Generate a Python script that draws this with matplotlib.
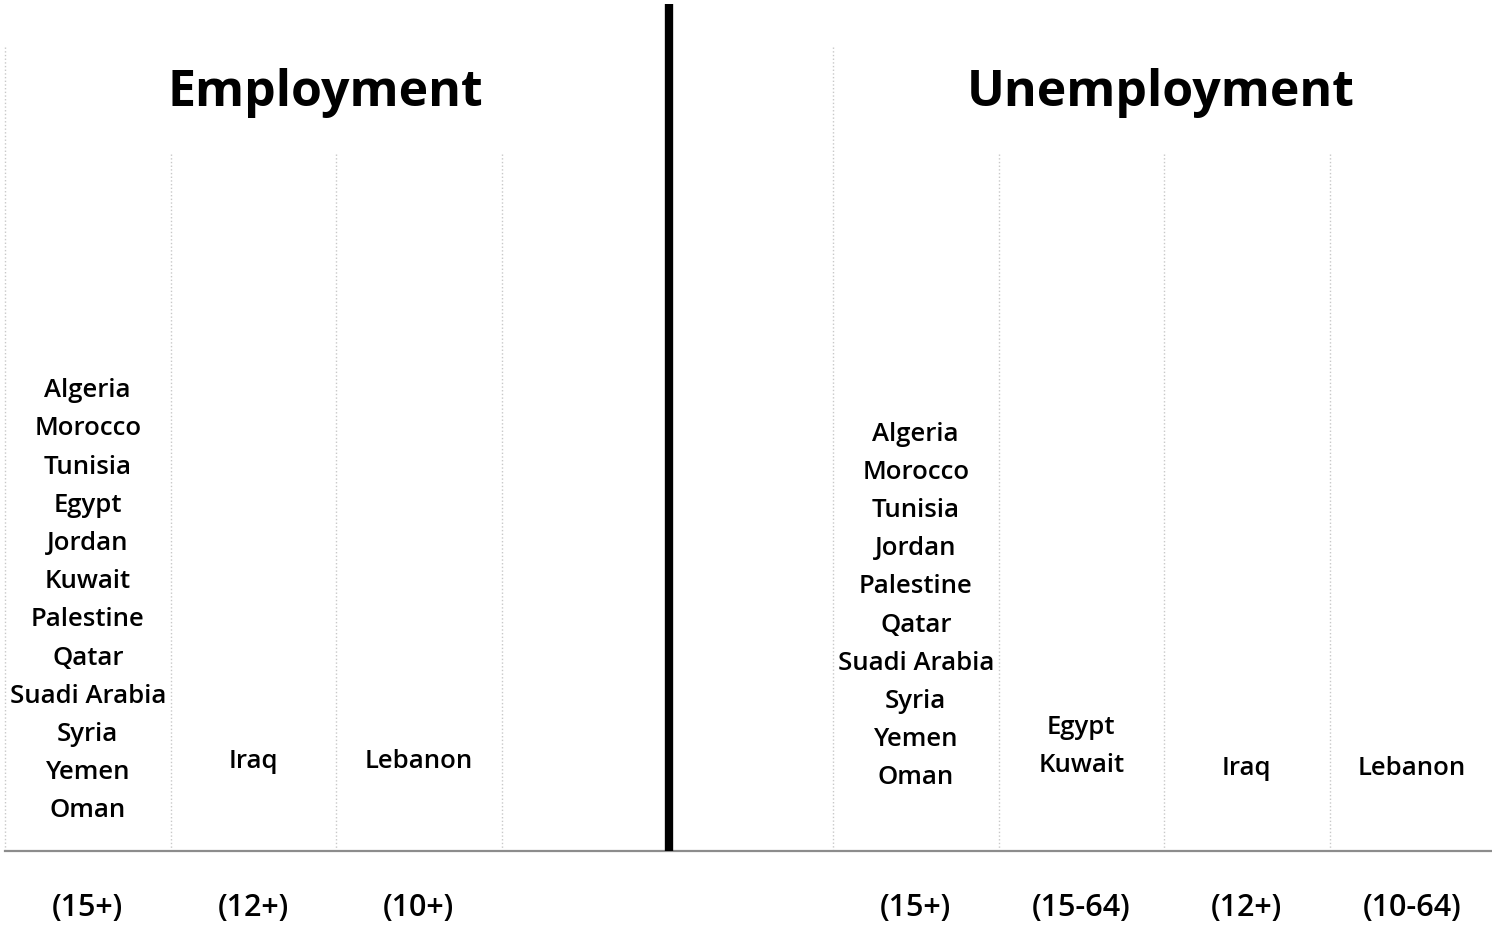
import matplotlib.pyplot as plt

# age groups and the countries that use them
emp_ages = ["(15+)", "(12+)", "(10+)"]
emp_countries = [
    ["Algeria", "Morocco", "Tunisia", "Egypt", "Jordan", "Kuwait", "Palestine",
     "Qatar", "Suadi Arabia", "Syria", "Yemen", "Oman"],
    ["Iraq"],
    ["Lebanon"],
]
unemp_ages = ["(15+)", "(15-64)", "(12+)", "(10-64)"]
unemp_countries = [
    ["Algeria", "Morocco", "Tunisia", "Jordan", "Palestine", "Qatar",
     "Suadi Arabia", "Syria", "Yemen", "Oman"],
    ["Egypt", "Kuwait"],
    ["Iraq"],
    ["Lebanon"],
]

plt.rcParams['font.family'] = ['Open Sans', 'DejaVu Sans']

fig = plt.figure(figsize=(14.92, 9.28), dpi=100)
ax = fig.add_axes([0, 0, 1, 1])
ax.set_xlim(0, 1492)
ax.set_ylim(928, 0)
ax.axis('off')

col_w = 165.5
base_y = 852
step = 38.2
grid_kw = dict(color='#c8c8c8', linestyle=':', linewidth=1)


def panel(x0, title, title_dx, ages, countries, bottoms):
    # grid lines
    ax.plot([x0, x0], [48, base_y], **grid_kw)
    for i in range(1, 4):
        ax.plot([x0 + i * col_w] * 2, [155, base_y], **grid_kw)
    ax.text(x0 + 2 * col_w + title_dx, 93, title, ha='center', va='center',
            fontsize=36, fontweight='bold')
    for i, (age, names) in enumerate(zip(ages, countries)):
        cx = x0 + (i + 0.5) * col_w
        ax.text(cx, 908, age, ha='center', va='center', fontsize=22,
                fontweight='semibold')
        n = len(names)
        for j, name in enumerate(names):
            y = bottoms[i] - (n - 1 - j) * step
            ax.text(cx, y + 1, name, ha='center', va='center', fontsize=18.5,
                    fontweight='semibold')


panel(5, "Employment", -11, emp_ages, emp_countries, [810, 761, 761])
panel(833, "Unemployment", -3, unemp_ages, unemp_countries, [777, 765, 768, 768])

ax.plot([5, 1492], [base_y, base_y], color='#8c8c8c', linewidth=1.6)
ax.plot([669, 669], [5, base_y], color='black', linewidth=6, solid_capstyle='butt')

fig.savefig('out.png', dpi=100)
